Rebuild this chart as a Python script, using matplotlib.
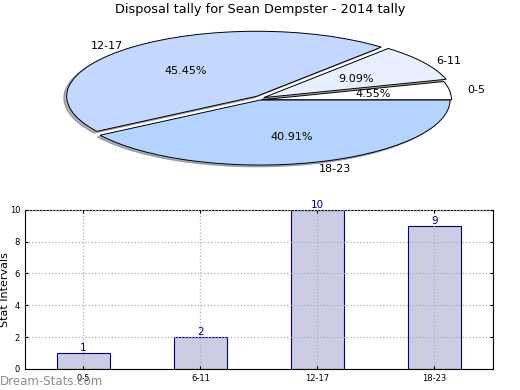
import numpy as np
import matplotlib
matplotlib.use("Agg")
import matplotlib.pyplot as plt

categories = ['0-5', '6-11', '12-17', '18-23']
counts = [1, 2, 10, 9]
# how far each slice is pulled out, in pixels on screen
explode_px = [1.5, 4.5, 5.0, 0.0]
colors = ['#ffffff', '#e8f0ff', '#c4d8ff', '#b4d4ff']

W, H = 520, 390
fig = plt.figure(figsize=(W / 100, H / 100), dpi=100)

# pie (flattened ellipse)
pie_box = [0.0, 0.52, 1.0, 0.44]
ax1 = fig.add_axes(pie_box)
wedges, texts, autotexts = ax1.pie(counts, labels=categories, colors=colors,
                                   autopct='%1.2f%%', startangle=0,
                                   shadow={'ox': -0.011, 'oy': -0.02, 'shade': 0.55},
                                   pctdistance=0.6, labeldistance=1.1,
                                   wedgeprops={'edgecolor': 'black', 'linewidth': 0.7},
                                   textprops={'fontsize': 8})
ax1.set_aspect('auto')
xlim = (-1.368, 1.368)
ylim = (-1.341, 1.299)
ax1.set_xlim(*xlim)
ax1.set_ylim(*ylim)
ax1.set_title('Disposal tally for Sean Dempster - 2014 tally', fontsize=9.3, pad=0)

# pull slices apart in screen space
sx = W * pie_box[2] / (xlim[1] - xlim[0])
sy = H * pie_box[3] / (ylim[1] - ylim[0])
for w, d in zip(wedges, explode_px):
    mid = np.deg2rad((w.theta1 + w.theta2) / 2)
    w.set_center((d * np.cos(mid) / sx, d * np.sin(mid) / sy))

# bars
ax2 = fig.add_axes([0.048, 0.054, 0.900, 0.408])
x = range(len(categories))
ax2.bar(x, counts, width=0.45, color='#ccccE4', edgecolor='#000080', linewidth=0.8, zorder=2)
for xi, c in zip(x, counts):
    ax2.text(xi, c, str(c), ha='center', va='bottom', color='#000080', fontsize=7.5)
ax2.set_xlim(-0.5, 3.5)
ax2.set_ylim(0, 10)
ax2.set_xticks(list(x))
ax2.set_xticklabels(categories)
ax2.set_yticks([0, 2, 4, 6, 8, 10])
ax2.tick_params(labelsize=6, direction='in', length=2, right=True, top=True)
ax2.grid(True, linestyle=':', color='#b0b0b0', linewidth=0.9)
ax2.set_axisbelow(False)
ax2.set_ylabel('Stat Intervals', fontsize=8)
ax2.yaxis.set_label_coords(-0.031, 0.5)
ax2.set_xlabel('Frequency', fontsize=8, labelpad=5)

fig.text(0.0, 0.012, 'Dream-Stats.com', fontsize=8.5, color='#8c8c8c')

fig.savefig('out.png', dpi=100)
